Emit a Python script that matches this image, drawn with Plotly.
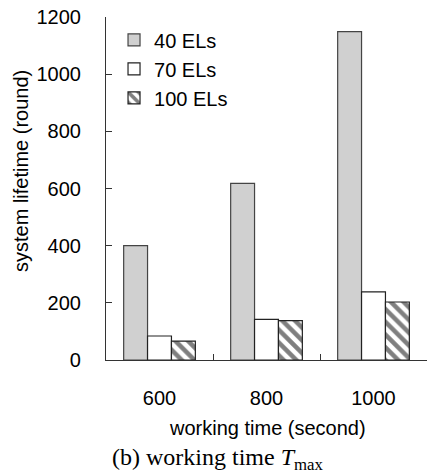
import plotly.graph_objects as go

categories = ["600", "800", "1000"]
series_names = ["40 ELs", "70 ELs", "100 ELs"]
vals_40 = [400, 618, 1149]
vals_70 = [84, 142, 238]
vals_100 = [66, 138, 203]

FONT = "Liberation Sans, Arial, sans-serif"
W, H = 427, 474
ML, MR, MT, MB = 106, 0, 17, 114

fig = go.Figure()
fig.add_trace(go.Bar(x=categories, y=vals_40, name=series_names[0],
                     marker=dict(color="#d0d0d0", line=dict(color="#444444", width=1.2))))
fig.add_trace(go.Bar(x=categories, y=vals_70, name=series_names[1],
                     marker=dict(color="white", line=dict(color="#222222", width=1.2))))
fig.add_trace(go.Bar(x=categories, y=vals_100, name=series_names[2],
                     marker=dict(color="white", line=dict(color="#222222", width=1.2),
                                 pattern=dict(shape="\\", fgcolor="black", bgcolor="white",
                                              size=9, solidity=0.5))))

fig.update_layout(
    width=W, height=H,
    margin=dict(l=ML, r=MR, t=MT, b=MB),
    paper_bgcolor="white", plot_bgcolor="white",
    barmode="group", bargap=0.33, bargroupgap=0,
    font=dict(family=FONT, size=20, color="black"),
    showlegend=True,
    legend=dict(x=0.025, y=0.99, xanchor="left", yanchor="top",
                bgcolor="rgba(0,0,0,0)", font=dict(size=20),
                itemwidth=30, tracegroupgap=0),
    xaxis=dict(type="category", showline=True, linecolor="#333333", linewidth=1.2,
               ticks="inside", ticklen=6, tickcolor="#333333", tickson="boundaries",
               ticklabelstandoff=20, showgrid=False, zeroline=False,
               range=[-0.5, 2.5]),
    yaxis=dict(range=[0, 1200], tickvals=[0, 200, 400, 600, 800, 1000, 1200],
               showline=True, linecolor="#333333", linewidth=1.2,
               ticks="inside", ticklen=6, tickcolor="#333333",
               ticklabelstandoff=20, showgrid=False, zeroline=False),
)

fig.add_annotation(text="system lifetime (round)", textangle=-90,
                   xref="paper", yref="paper", x=(21 - ML) / (W - ML - MR),
                   y=(H - MB - 171) / (H - MT - MB), showarrow=False,
                   xanchor="center", yanchor="middle", font=dict(size=20))
fig.add_annotation(text="working time (second)",
                   xref="paper", yref="paper", x=(267 - ML) / (W - ML - MR),
                   y=-(428 - (H - MB)) / (H - MT - MB), showarrow=False,
                   xanchor="center", yanchor="middle", font=dict(size=20))
fig.add_annotation(text="(b) working time <i>T</i><sub>max</sub>",
                   xref="paper", yref="paper", x=(218 - ML) / (W - ML - MR),
                   y=-(459 - (H - MB)) / (H - MT - MB), showarrow=False,
                   xanchor="center", yanchor="middle",
                   font=dict(size=24, family="Liberation Serif, Times New Roman, serif"))

fig.write_html("out.html")
